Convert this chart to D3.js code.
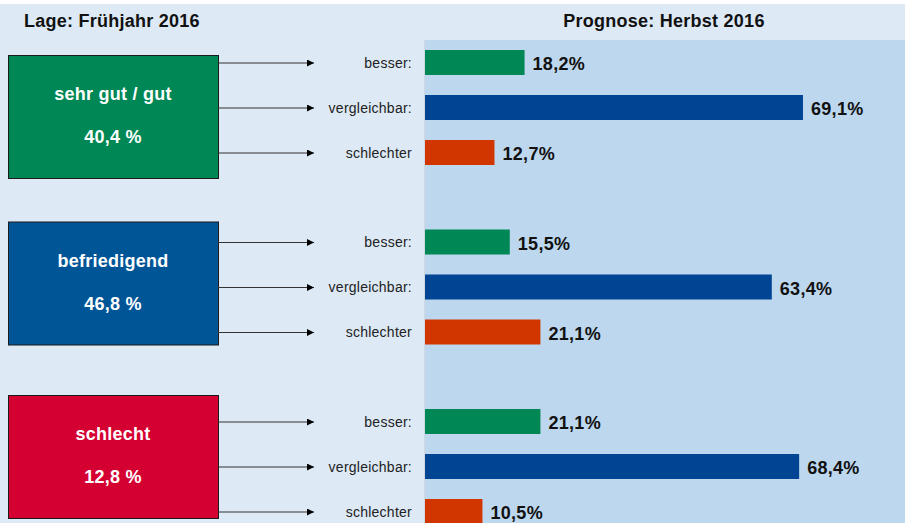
<!DOCTYPE html>
<html>
<head>
<meta charset="utf-8">
<script src="https://cdn.jsdelivr.net/npm/d3@7"></script>
<style>
  body { margin: 0; background: #fff; }
  svg { display: block; font-family: "Liberation Sans", Arial, sans-serif; }
</style>
</head>
<body>
<div id="chart"></div>
<script>
// Lage Frühjahr 2016 -> Prognose Herbst 2016

var groups = ["sehr gut / gut", "befriedigend", "schlecht"];
var groupShares = ["40,4 %", "46,8 %", "12,8 %"];
var outcomes = ["besser:", "vergleichbar:", "schlechter"];
var besser = [18.2, 15.5, 21.1];
var vergleichbar = [69.1, 63.4, 68.4];
var schlechter = [12.7, 21.1, 10.5];

var width = 905;
var height = 523;

var boxColors = ["#008756", "#005597", "#d40032"];
var barColors = ["#008756", "#004494", "#d13600"];
var boxShift = [5, -8, -14];

var svg = d3.select("#chart")
    .append("svg")
    .attr("width", width)
    .attr("height", height);

// backgrounds
svg.append("rect")
    .attr("x", 0).attr("y", 4)
    .attr("width", width).attr("height", height - 4)
    .attr("fill", "#dde9f5");

svg.append("rect")
    .attr("x", 424).attr("y", 40)
    .attr("width", width - 424).attr("height", height - 40)
    .attr("fill", "#bdd7ee");

svg.append("line")
    .attr("x1", 424.5).attr("x2", 424.5)
    .attr("y1", 40).attr("y2", height)
    .attr("stroke", "#cfd8e2")
    .attr("stroke-width", 1);

svg.append("text")
    .attr("x", 24).attr("y", 27)
    .attr("font-size", "18px")
    .attr("letter-spacing", "0.25px")
    .attr("font-weight", "bold")
    .attr("fill", "#111")
    .text("Lage: Frühjahr 2016");

svg.append("text")
    .attr("x", 664).attr("y", 27)
    .attr("text-anchor", "middle")
    .attr("font-size", "18px")
    .attr("letter-spacing", "0.25px")
    .attr("font-weight", "bold")
    .attr("fill", "#111")
    .text("Prognose: Herbst 2016");

// scales
var x = d3.scaleLinear().domain([0, 100]).range([425, 972]);
var groupY = d3.scalePoint().domain(groups).range([50, 409]);
var rowY = d3.scalePoint().domain(outcomes).range([0, 90]);
var barH = 25;

var data = groups.map(function(g, i) {
    return {
        name: g,
        share: groupShares[i],
        color: boxColors[i],
        shift: boxShift[i],
        rows: [besser[i], vergleichbar[i], schlechter[i]].map(function(v, j) {
            return { outcome: outcomes[j], value: v, color: barColors[j] };
        })
    };
});

var defs = svg.append("defs");
defs.append("marker")
    .attr("id", "arrow")
    .attr("viewBox", "0 0 10 10")
    .attr("refX", 10).attr("refY", 5)
    .attr("markerWidth", 9).attr("markerHeight", 7)
    .attr("markerUnits", "userSpaceOnUse")
    .attr("orient", "auto")
    .append("path")
    .attr("d", "M0,0 L10,5 L0,10 Z")
    .attr("fill", "#000");

var g = svg.selectAll(".grp")
    .data(data)
    .enter()
    .append("g")
    .attr("class", "grp")
    .attr("transform", function(d) { return "translate(0," + groupY(d.name) + ")"; });

// boxes
g.append("rect")
    .attr("x", 8.5)
    .attr("y", function(d) { return d.shift + 0.5; })
    .attr("width", 210)
    .attr("height", 123)
    .attr("fill", function(d) { return d.color; })
    .attr("stroke", "#1a1a1a")
    .attr("stroke-width", 1);

g.append("text")
    .attr("x", 113)
    .attr("y", function(d) { return d.shift + 45; })
    .attr("text-anchor", "middle")
    .attr("font-size", "18px")
    .attr("letter-spacing", "0.25px")
    .attr("font-weight", "bold")
    .attr("fill", "#fff")
    .text(function(d) { return d.name; });

g.append("text")
    .attr("x", 113)
    .attr("y", function(d) { return d.shift + 88; })
    .attr("text-anchor", "middle")
    .attr("font-size", "18px")
    .attr("letter-spacing", "0.25px")
    .attr("font-weight", "bold")
    .attr("fill", "#fff")
    .text(function(d) { return d.share; });

var rows = g.selectAll(".row")
    .data(function(d) { return d.rows; })
    .enter()
    .append("g")
    .attr("class", "row")
    .attr("transform", function(d) { return "translate(0," + rowY(d.outcome) + ")"; });

rows.append("line")
    .attr("x1", 218)
    .attr("x2", 314)
    .attr("y1", barH / 2 + 0.5)
    .attr("y2", barH / 2 + 0.5)
    .attr("stroke", "#333")
    .attr("stroke-width", 1)
    .attr("marker-end", "url(#arrow)");

rows.append("text")
    .attr("x", 412)
    .attr("y", barH / 2 + 5)
    .attr("text-anchor", "end")
    .attr("font-size", "14px")
    .attr("letter-spacing", "0.25px")
    .attr("fill", "#222")
    .text(function(d) { return d.outcome; });

rows.append("rect")
    .attr("x", x(0))
    .attr("y", 0)
    .attr("width", function(d) { return x(d.value) - x(0); })
    .attr("height", barH)
    .attr("fill", function(d) { return d.color; });

rows.append("text")
    .attr("x", function(d) { return x(d.value) + 8; })
    .attr("y", barH / 2 + 7.5)
    .attr("font-size", "18px")
    .attr("letter-spacing", "0.3px")
    .attr("font-weight", "bold")
    .attr("fill", "#111")
    .text(function(d) { return d3.format(".1f")(d.value).replace(".", ",") + "%"; });
</script>
</body>
</html>
